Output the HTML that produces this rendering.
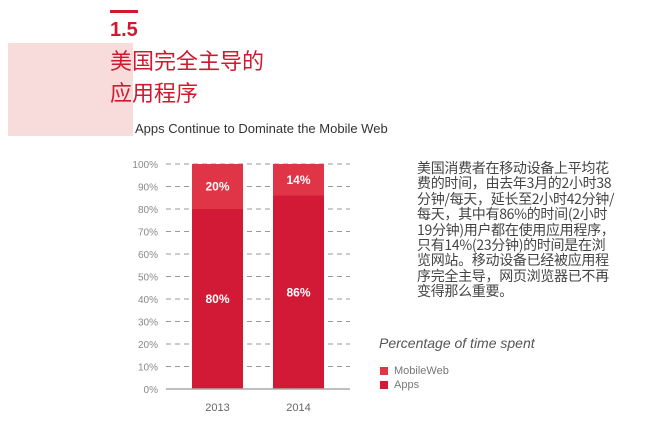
<!DOCTYPE html>
<html><head><meta charset="utf-8"><style>
body{margin:0;width:667px;height:426px;background:#fff;position:relative;overflow:hidden;font-family:"Liberation Sans","Noto Sans CJK SC",sans-serif}
.a{position:absolute}
</style></head><body>
<div class="a" style="left:110px;top:10px;width:28px;height:3px;background:#d0192f"></div>
<div class="a" style="left:110px;top:19px;font-size:20px;font-weight:bold;color:#d0192f">1.5</div>
<div class="a" style="left:8px;top:43px;width:125px;height:93px;background:#f8dcdb"></div>
<div class="a" style="left:110px;top:44px;font-size:22px;line-height:32px;color:#d0192f;font-family:'Noto Sans CJK SC',sans-serif">美国完全主导的<br>应用程序</div>
<div class="a" style="left:135px;top:121px;font-size:13px;color:#333">Apps Continue to Dominate the Mobile Web</div>
<svg class="a" style="left:0;top:0" width="667" height="426"></svg>
<div class="a" style="left:417px;top:161px;width:200px;font-size:14px;line-height:15.4px;color:#444;font-family:'Noto Sans CJK SC',sans-serif;letter-spacing:-0.3px">美国消费者在移动设备上平均花费的时间，由去年3月的2小时38分钟/每天，延长至2小时42分钟/每天，其中有86%的时间(2小时19分钟)用户都在使用应用程序，只有14%(23分钟)的时间是在浏览网站。移动设备已经被应用程序完全主导，网页浏览器已不再变得那么重要。</div>
<div class="a" style="left:379px;top:335px;font-size:14px;font-style:italic;color:#555">Percentage of time spent</div>
<div class="a" style="left:380px;top:365px;font-size:11px;color:#777"><span style="display:inline-block;width:8px;height:8px;background:#e03447;margin-right:6px;vertical-align:-1px"></span>MobileWeb</div>
<div class="a" style="left:380px;top:379px;font-size:11px;color:#777"><span style="display:inline-block;width:8px;height:8px;background:#d21a36;margin-right:6px;vertical-align:-1px"></span>Apps</div>
<script>
const categories=["2013","2014"];
const apps=[80,86];
const web=[20,14];
const ticks=[0,10,20,30,40,50,60,70,80,90,100];
const svg=document.querySelector('svg');
const NS='http://www.w3.org/2000/svg';
const y0=389,y1=164;
const y=v=>y0-(y1-y0)*(-v/100);
const yy=v=>y0-(y0-y1)*v/100;
const bx=i=>192+i*81;
const bw=51;
function mk(t,a){const e=document.createElementNS(NS,t);for(const k in a)e.setAttribute(k,a[k]);svg.appendChild(e);return e;}
ticks.forEach(t=>{
  if(t>0){const l=mk('line',{x1:166,x2:350,y1:yy(t),y2:yy(t),stroke:'#999','stroke-dasharray':'5,4','stroke-width':1});
  
  }
  const tx=mk('text',{x:158,y:yy(t)+4,'text-anchor':'end','font-size':10,fill:'#888','font-family':'Liberation Sans'});
  tx.textContent=t+'%';
  
  
});
categories.forEach((c,i)=>{
  const r1=mk('rect',{x:bx(i),y:yy(apps[i]),width:bw,height:yy(0)-yy(apps[i]),fill:'#d21a36'});
  
  
  const r2=mk('rect',{x:bx(i),y:yy(apps[i]+web[i]),width:bw,height:yy(apps[i])-yy(apps[i]+web[i]),fill:'#e03447'});
  
  
  const t1=mk('text',{x:bx(i)+bw/2,y:(yy(0)+yy(apps[i]))/2+4,'text-anchor':'middle','font-size':12,'font-weight':'bold',fill:'#fff','font-family':'Liberation Sans'});
  t1.textContent=apps[i]+'%';
  
  
  const t2=mk('text',{x:bx(i)+bw/2,y:(yy(apps[i])+yy(apps[i]+web[i]))/2+4,'text-anchor':'middle','font-size':12,'font-weight':'bold',fill:'#fff','font-family':'Liberation Sans'});
  t2.textContent=web[i]+'%';
  
  
  const xl=mk('text',{x:bx(i)+bw/2,y:411,'text-anchor':'middle','font-size':11,fill:'#666','font-family':'Liberation Sans'});
  xl.textContent=c;
  
  
});
const ax=mk('line',{x1:166,x2:350,y1:y0,y2:y0,stroke:'#aaa','stroke-width':1.5});


</script>
</body></html>
